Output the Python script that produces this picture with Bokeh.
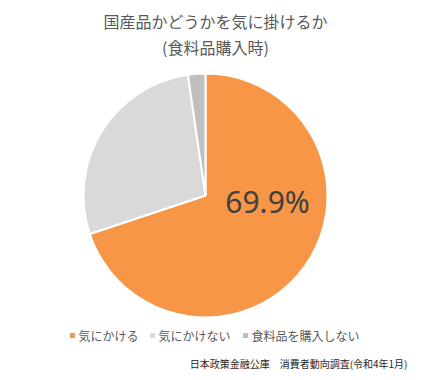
import math
from bokeh.plotting import figure
from bokeh.models import Range1d, ColumnDataSource
from bokeh.core.properties import value
from bokeh.embed import file_html
from bokeh.resources import INLINE

W, H = 422, 380

title_lines = ["国産品かどうかを気に掛けるか", "(食料品購入時)"]
categories = ["気にかける", "気にかけない", "食料品を購入しない"]
shares = [69.9, 27.8, 2.3]
colors = ["#F79646", "#D9D9D9", "#BFBFBF"]
main_label = "69.9%"
source_note = "日本政策金融公庫　消費者動向調査(令和4年1月)"

JP = value("Noto Sans CJK JP")

p = figure(width=W, height=H, output_backend="svg", toolbar_location=None,
           x_range=Range1d(0, W), y_range=Range1d(0, H), min_border=0)
p.axis.visible = False
p.grid.visible = False
p.outline_line_color = None
p.background_fill_color = "white"
p.border_fill_color = "white"

def Y(ypx):
    return H - ypx

# pie
cx, cy, r = 205, 195, 122
total = sum(shares)
starts, ends = [], []
c = 0.0
for s in shares:
    c0 = c
    c += s / total
    starts.append(math.pi / 2 - 2 * math.pi * c)
    ends.append(math.pi / 2 - 2 * math.pi * c0)
src = ColumnDataSource(dict(x=[cx] * len(shares), y=[Y(cy)] * len(shares),
                            start=starts, end=ends, color=colors))
p.wedge(x="x", y="y", radius=r, start_angle="start", end_angle="end",
        fill_color="color", line_color="white", line_width=2, source=src)

# main percentage label
p.text(x=[267], y=[Y(201)], text=[main_label], text_font=value("Noto Sans"),
       text_font_size="30px", text_color="#404040", text_align="center",
       text_baseline="middle")

# title
p.text(x=[215, 215], y=[Y(20), Y(46)], text=title_lines, text_font=JP,
       text_font_size="16px", text_color="#595959", text_align="center",
       text_baseline="middle")

# legend
sq_x = [72, 152, 245]
ly = 335
p.scatter(x=sq_x, y=[Y(ly)] * 3, marker="square", size=5, fill_color=colors,
          line_color=None)
p.text(x=[x + 6 for x in sq_x], y=[Y(ly)] * 3, text=categories, text_font=JP,
       text_font_size="12px", text_color="#595959", text_align="left",
       text_baseline="middle")

# source note
p.text(x=[407], y=[Y(363)], text=[source_note], text_font=JP,
       text_font_size="10px", text_color="#262626", text_align="right",
       text_baseline="middle")

open("out.html", "w").write(file_html(p, INLINE))
